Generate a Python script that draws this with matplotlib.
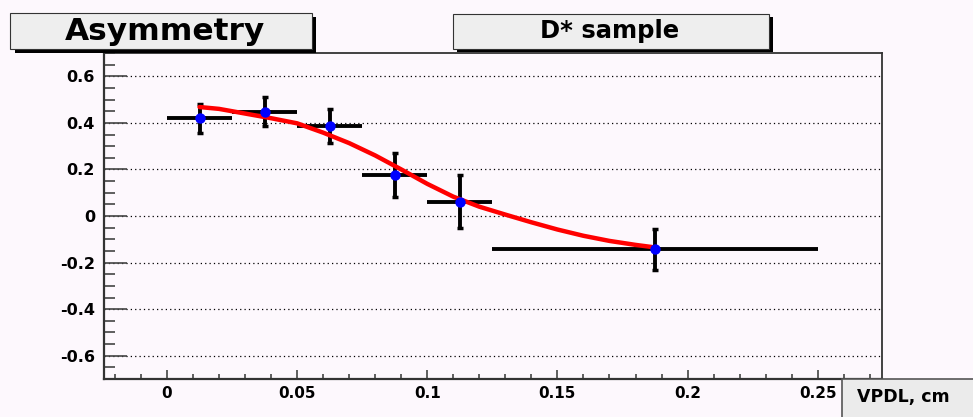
import matplotlib.pyplot as plt
from matplotlib.patches import Rectangle
from matplotlib.ticker import MultipleLocator, FuncFormatter

plt.rcParams['font.family'] = 'DejaVu Sans'
plt.rcParams['font.weight'] = 'bold'
plt.rcParams['axes.unicode_minus'] = False

W, H = 973, 417
bg = '#fdf8fd'

# measured asymmetry per VPDL bin
vpdl = [0.0125, 0.0375, 0.0625, 0.0875, 0.1125, 0.1875]
vpdl_err = [0.0125, 0.0125, 0.0125, 0.0125, 0.0125, 0.0625]
asym = [0.419, 0.448, 0.388, 0.176, 0.062, -0.143]
asym_err = [0.063, 0.062, 0.073, 0.095, 0.115, 0.087]

# fit curve
fit_x = [0.0125, 0.02, 0.03, 0.04, 0.05, 0.06, 0.07, 0.08, 0.09, 0.10,
         0.11, 0.12, 0.13, 0.14, 0.15, 0.16, 0.17, 0.18, 0.1875]
fit_y = [0.468, 0.460, 0.440, 0.420, 0.398, 0.358, 0.313, 0.260, 0.200, 0.138,
         0.083, 0.040, 0.006, -0.027, -0.058, -0.085, -0.107, -0.124, -0.135]

fig = plt.figure(figsize=(W / 100, H / 100), dpi=100, facecolor=bg)


def px_rect(x0, y0, x1, y1, **kw):
    # rectangle given in pixel coords (y from top)
    r = Rectangle((x0 / W, 1 - y1 / H), (x1 - x0) / W, (y1 - y0) / H,
                  transform=fig.transFigure, **kw)
    fig.patches.append(r)
    return r


ax = fig.add_axes([104 / W, 1 - 379 / H, 778 / W, 326 / H])
ax.set_facecolor(bg)
ax.set_xlim(-0.0242, 0.2747)
ax.set_ylim(-0.7, 0.7)

ax.errorbar(vpdl, asym, xerr=vpdl_err, fmt='none', ecolor='black',
            elinewidth=2.8, capsize=0, zorder=2)
ax.errorbar(vpdl, asym, yerr=asym_err, fmt='none', ecolor='black',
            elinewidth=2.8, capsize=2, capthick=2.5, zorder=2)
ax.plot(fit_x, fit_y, color='red', lw=3.2, solid_capstyle='round', zorder=3)
ax.plot(vpdl, asym, 'o', color='blue', markersize=7.5, markeredgewidth=0, zorder=4)

ax.xaxis.set_major_locator(MultipleLocator(0.05))
ax.xaxis.set_minor_locator(MultipleLocator(0.01))
ax.yaxis.set_major_locator(MultipleLocator(0.2))
ax.yaxis.set_minor_locator(MultipleLocator(0.05))
fmt = FuncFormatter(lambda v, p: '%g' % round(v, 4))
ax.xaxis.set_major_formatter(fmt)
ax.yaxis.set_major_formatter(fmt)

ax.tick_params(axis='y', which='major', direction='in', length=16.5, width=1.2,
               color='#444444', pad=6.5, labelsize=11.5)
ax.tick_params(axis='y', which='minor', direction='in', length=8, width=1.2,
               color='#444444')
ax.tick_params(axis='x', which='major', direction='in', length=6.5, width=1.2,
               color='#444444', pad=5, labelsize=11)
ax.tick_params(axis='x', which='minor', direction='in', length=3.6, width=1.2,
               color='#444444')

ax.yaxis.grid(True, which='major', linestyle=(0, (1, 2.5)), color='black', linewidth=0.9)
ax.set_axisbelow(True)
for s in ax.spines.values():
    s.set_color('#333333')
    s.set_linewidth(1.3)
ax.spines['left'].set_linewidth(1.6)
ax.spines['bottom'].set_linewidth(1.6)

# title boxes with shadow
px_rect(15, 17, 316, 53, facecolor='black', edgecolor='none', zorder=1)
px_rect(10, 13, 312, 49, facecolor='#eeeeee', edgecolor='#333333', lw=0.8, zorder=2)
fig.text(165 / W, 1 - 31 / H, 'Asymmetry', ha='center', va='center', fontsize=22.5)

px_rect(457, 17, 773, 52, facecolor='black', edgecolor='none', zorder=1)
px_rect(453, 14, 769, 49, facecolor='#eeeeee', edgecolor='#333333', lw=0.8, zorder=2)
fig.text(610 / W, 1 - 31 / H, 'D* sample', ha='center', va='center', fontsize=17.5)

# axis title box
px_rect(842, 379, 980, 425, facecolor='#ebebeb', edgecolor='#555555', lw=1.2, zorder=1)
fig.text(857 / W, 1 - 397 / H, 'VPDL, cm', ha='left', va='center', fontsize=12.5)

fig.savefig('out.png', dpi=100, facecolor=fig.get_facecolor())
